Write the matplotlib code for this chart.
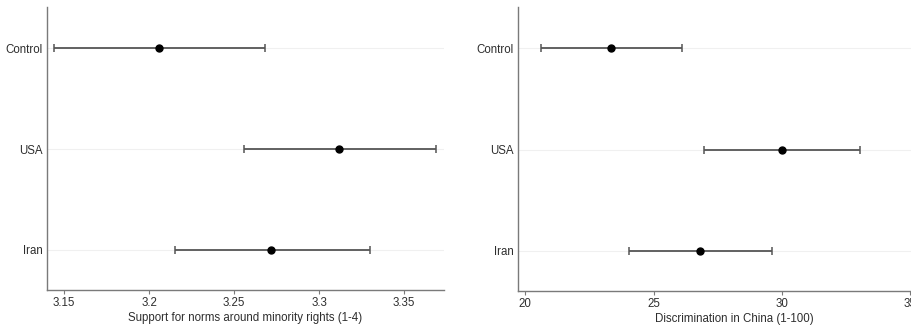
import matplotlib
matplotlib.use("Agg")
import matplotlib.pyplot as plt

plt.rcParams['font.family'] = ['Liberation Sans', 'DejaVu Sans']

categories = ["Control", "USA", "Iran"]

# Panel 1: Support for norms around minority rights (1-4)
norms_mean = [3.206, 3.312, 3.272]
norms_lo = [3.144, 3.256, 3.215]
norms_hi = [3.268, 3.369, 3.330]
norms_ticks = [3.15, 3.2, 3.25, 3.3, 3.35]
norms_ticklabels = ["3.15", "3.2", "3.25", "3.3", "3.35"]
norms_label = "Support for norms around minority rights (1-4)"

# Panel 2: Discrimination in China (1-100)
disc_mean = [23.33, 30.01, 26.81]
disc_lo = [20.60, 26.98, 24.04]
disc_hi = [26.12, 33.05, 29.61]
disc_ticks = [20, 25, 30, 35]
disc_ticklabels = ["20", "25", "30", "35"]
disc_label = "Discrimination in China (1-100)"

W, H = 911, 327
fig = plt.figure(figsize=(W / 100, H / 100), dpi=100)
fig.patch.set_facecolor("white")

spine_col = "#7a7a7a"
text_col = "#2e2e2e"
fs = 8.3


def panel(rect, means, lo, hi, ticks, ticklabels, xlabel, xlim):
    ax = fig.add_axes(rect)
    ypos = list(range(1, len(categories) + 1))
    for y in ypos:
        ax.axhline(y, color="#f0f0f0", lw=0.8, zorder=0)
    xerr = [[m - l for m, l in zip(means, lo)], [h - m for m, h in zip(means, hi)]]
    ax.errorbar(means, ypos, xerr=xerr, fmt="o", color="black", ms=5.0,
                ecolor="#555555", elinewidth=1.3, capsize=2.6, capthick=1.1, zorder=3)
    ax.set_ylim(3.4, 0.59)
    ax.set_xlim(*xlim)
    ax.set_yticks(ypos)
    ax.set_yticklabels(categories, fontsize=fs, color=text_col)
    ax.set_xticks(ticks)
    ax.set_xticklabels(ticklabels, fontsize=fs, color=text_col)
    ax.set_xlabel(xlabel, fontsize=fs, color=text_col, labelpad=2)
    ax.tick_params(axis="y", length=0, pad=3)
    ax.tick_params(axis="x", length=3, width=0.8, color=spine_col, pad=2)
    for s in ["top", "right"]:
        ax.spines[s].set_visible(False)
    for s in ["left", "bottom"]:
        ax.spines[s].set_color(spine_col)
        ax.spines[s].set_linewidth(1.0)
    return ax


# left panel: x 47..444 px, y 7..290 px
panel([47 / W, (H - 290) / H, (444 - 47) / W, (290 - 7) / H],
      norms_mean, norms_lo, norms_hi, norms_ticks, norms_ticklabels, norms_label,
      (3.1400, 3.3735))

# right panel: x 518..950 px (cropped at figure edge, as in the reference), y 7..291 px
panel([518 / W, (H - 291) / H, (950 - 518) / W, (291 - 7) / H],
      disc_mean, disc_lo, disc_hi, disc_ticks, disc_ticklabels, disc_label,
      (19.715, 36.5625))

fig.savefig("out.png", dpi=100, facecolor="white")
